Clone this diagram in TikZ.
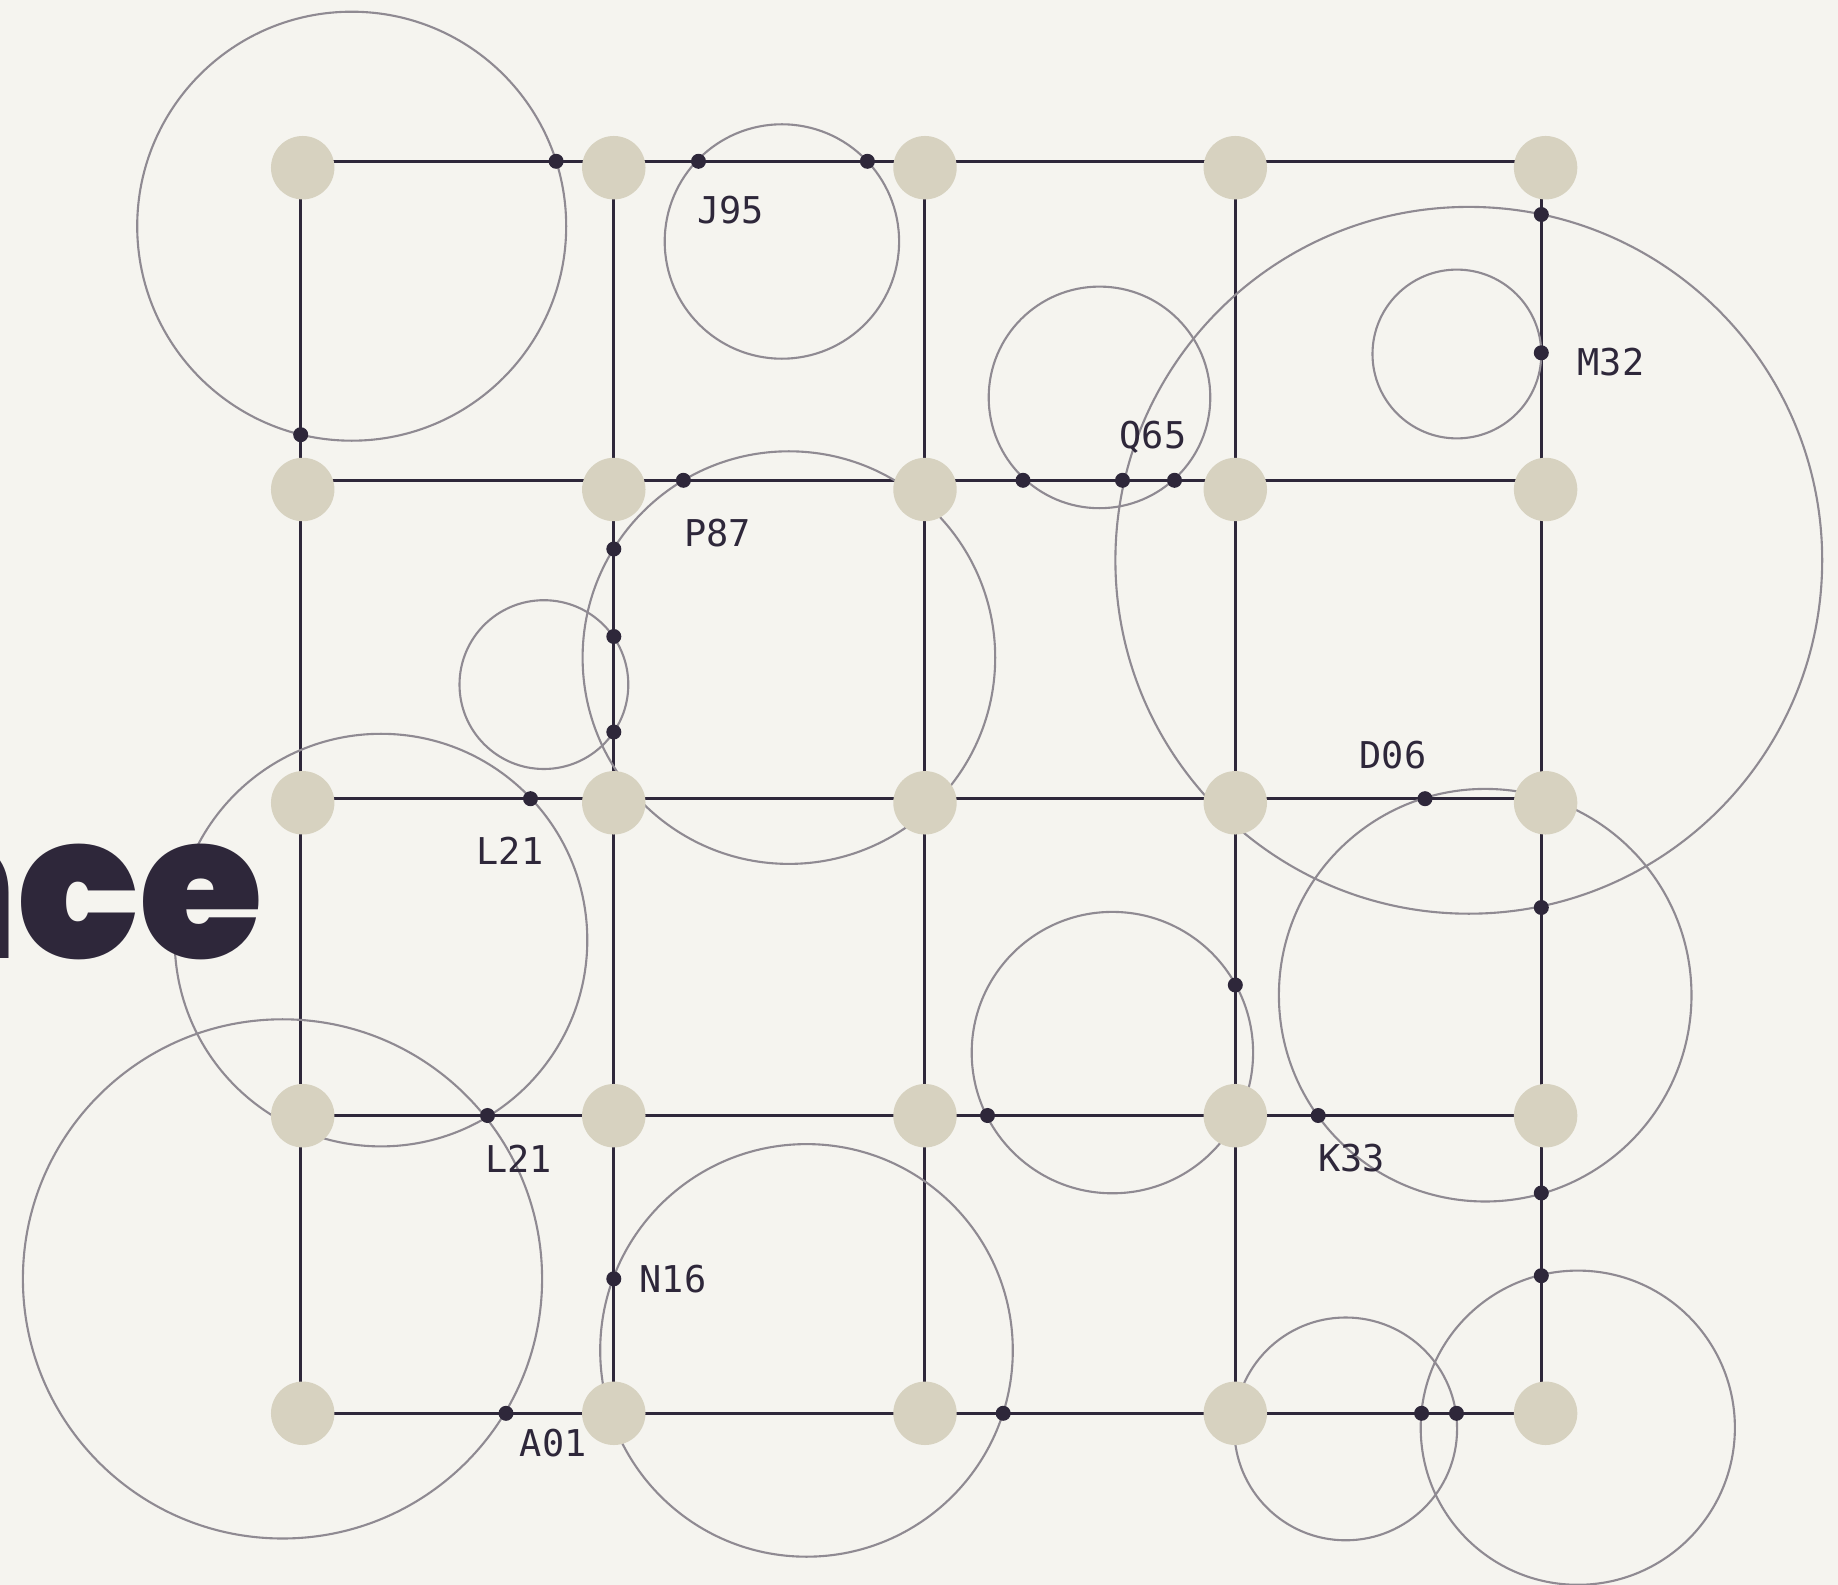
\documentclass[tikz,border=0pt]{standalone}
\usepackage{fontspec}
\newfontfamily\tagfont{DejaVu Sans Mono}
\newfontfamily\heavyfont{Poppins Black}

\definecolor{paper}{HTML}{F5F4EF}
\definecolor{hubfill}{HTML}{D7D2C0}
\definecolor{ink}{HTML}{2E273A}
\definecolor{ringgrey}{HTML}{8F8A92}

\newcommand*{\picw}{1838}
\newcommand*{\pich}{1585}

\begin{document}
\begin{tikzpicture}
[
	x=0.01cm,y=-0.01cm,
	hub/.style={circle,fill=hubfill,inner sep=0pt,minimum size=0.634cm},
	joint/.style={circle,fill=ink,inner sep=0pt,minimum size=0.15cm},
	ring/.style={draw=ringgrey,line width=0.6pt},
	wire/.style={draw=ink,line width=0.85pt},
	tag/.style={text=ink,font=\tagfont\fontsize{10.5}{12}\selectfont,inner sep=0pt}
]

	% background
	\fill[paper] (0,0) rectangle (\picw,\pich);
	\useasboundingbox (0,0) rectangle (\picw,\pich);

	% grid points where the wires cross
	\foreach \col/\gx in {1/300.7,2/613.8,3/924.5,4/1235.3,5/1541.3}
		\foreach \row/\gy in {1/161.3,2/480.3,3/798.7,4/1115.5,5/1413.3}
			\coordinate (g\row\col) at (\gx,\gy);

	% wires
	\foreach \row in {1,...,5}
		\foreach \col in {1,...,4}
		{
			\pgfmathtruncatemacro{\nxt}{\col+1}
			\draw[wire] (g\row\col) -- (g\row\nxt);
			\draw[wire] (g\col\row) -- (g\nxt\row);
		}

	% rings
	\foreach \rx/\ry/\rr in {351.7/226.2/214.5, 781.9/241.5/117.2, 1099.5/397.4/110.8,
		1468.8/560.3/353.4, 1456.9/354.0/84.4, 788.9/657.6/206.3, 543.9/684.6/84.4,
		381.0/940.1/206.3, 282.5/1278.9/259.6, 806.5/1350.4/206.3, 1112.4/1052.6/140.7,
		1485.2/995.2/206.3, 1345.7/1428.9/111.4, 1577.8/1427.7/157.1}
		\draw[ring] (\rx,\ry) circle[radius=\rr];

	% hubs
	\foreach \col/\hx in {1/302.7,2/613.8,3/925,4/1235.3,5/1545.6}
		\foreach \row/\hy in {1/167.7,2/489.5,3/802.8,4/1115.7,5/1413.3}
			\node[hub] (h\row\col) at (\hx,\hy) {};

	\node[text=ink,font=\heavyfont\fontsize{57}{60}\selectfont,anchor=base east,inner sep=0pt] (word) at (264,958) {nce};

	% joints on the wires
	\foreach \i/\px/\py in {1/556.1/161.3, 2/698.5/161.3, 3/867.4/161.3, 4/300.7/434.7,
		5/1541.3/214.5, 6/1541.3/352.8, 7/683.4/480.3, 8/1023.0/480.3, 9/1122.5/480.3,
		10/1174.5/480.3, 11/613.8/549.0, 12/613.8/636.5, 13/613.8/732.0, 14/530.5/798.7,
		15/1425.0/798.7, 16/1541.3/907.5, 17/1235.3/985.0, 18/487.5/1115.5, 19/987.5/1115.5,
		20/1318.2/1115.5, 21/1541.3/1193.0, 22/1541.3/1275.7, 23/613.8/1278.8, 24/506.0/1413.3,
		25/1003.2/1413.3, 26/1421.6/1413.3, 27/1456.5/1413.3}
		\node[joint] (j\i) at (\px,\py) {};

	% labels
	\node[tag] (tJ95) at (730.6,210.3) {J95};
	\node[tag] (tP87) at (717.4,533.4) {P87};
	\node[tag] (tQ65) at (1153.0,437.7) {Q65};
	\node[tag] (tM32) at (1611.0,362.0) {M32};
	\node[tag] (tD06) at (1393.0,755.0) {D06};
	\node[tag] (tL21a) at (509.9,851.0) {L21};
	\node[tag] (tL21b) at (518.7,1158.3) {L21};
	\node[tag] (tK33) at (1351.5,1158.1) {K33};
	\node[tag] (tN16) at (672.9,1279.5) {N16};
	\node[tag] (tA01) at (553.3,1443.0) {A01};

\end{tikzpicture}
\end{document}
